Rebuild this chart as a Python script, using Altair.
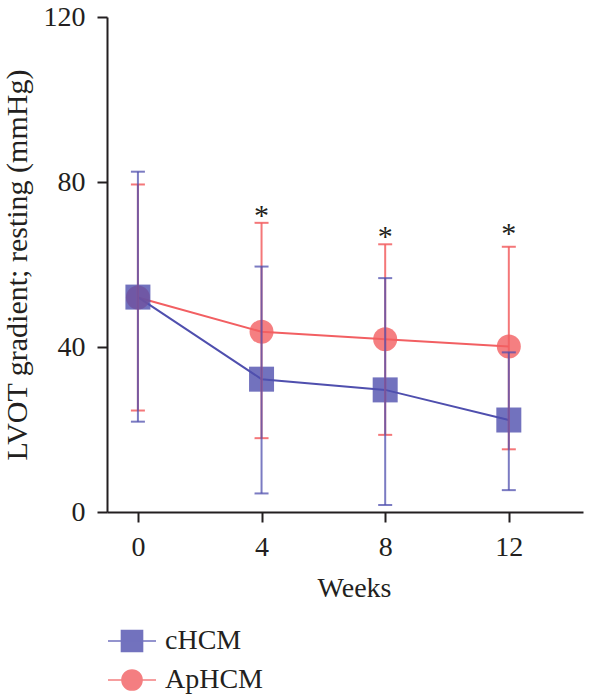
import altair as alt
import pandas as pd

# ---- data ----
weeks = [0, 4, 8, 12]
groups = ["cHCM", "ApHCM"]

chcm_mean = [52.1, 32.2, 29.6, 22.3]
chcm_hi = [82.5, 59.5, 56.7, 38.7]
chcm_lo = [21.9, 4.5, 1.7, 5.3]

aphcm_mean = [52.0, 43.7, 41.9, 40.1]
aphcm_hi = [79.4, 70.1, 64.9, 64.3]
aphcm_lo = [24.6, 17.9, 18.7, 15.2]

star_weeks = [4, 8, 12]
star_y = [72.7, 67.7, 68.4]
star_text = ["*", "*", "*"]

y_ticks = [0, 40, 80, 120]

BLUE = "#4F4FAE"
RED = "#F25F62"
INK = "#231F20"
FONT = "Liberation Serif"

df_c = pd.DataFrame({"week": weeks, "mean": chcm_mean, "lo": chcm_lo, "hi": chcm_hi, "group": "cHCM"})
df_a = pd.DataFrame({"week": weeks, "mean": aphcm_mean, "lo": aphcm_lo, "hi": aphcm_hi, "group": "ApHCM"})
df_s = pd.DataFrame({"week": star_weeks, "mean": star_y, "label": star_text})
df_leg = pd.DataFrame({"group": groups, "week": [0, 0], "mean": [0, 0]})

xs = alt.Scale(domain=[-1, 14.4], nice=False, zero=False)
ys = alt.Scale(domain=[0, 120], nice=False, zero=True)
x_axis = alt.Axis(values=weeks, title="Weeks", titleX=247, labelPadding=11, titlePadding=13)
y_axis = alt.Axis(values=y_ticks, title="LVOT gradient; resting (mmHg)", labelPadding=12, titlePadding=11,
                  titleFontSize=30)


def X():
    return alt.X("week:Q", scale=xs, axis=x_axis)


def Y(field):
    return alt.Y(f"{field}:Q", scale=ys, axis=y_axis)


def group_layers(df, color, shape, size, op_bar):
    base = alt.Chart(df)
    line = base.mark_line(color=color, strokeWidth=2).encode(x=X(), y=Y("mean"))
    pts = base.mark_point(shape=shape, filled=True, size=size, color=color, opacity=0.8).encode(x=X(), y=Y("mean"))
    rule = base.mark_rule(color=color, strokeWidth=2, opacity=op_bar).encode(x=X(), y=Y("lo"), y2="hi:Q")
    cap_hi = base.mark_tick(orient="horizontal", size=14, thickness=2, color=color, opacity=op_bar).encode(x=X(), y=Y("hi"))
    cap_lo = base.mark_tick(orient="horizontal", size=14, thickness=2, color=color, opacity=op_bar).encode(x=X(), y=Y("lo"))
    return line, pts, rule, cap_hi, cap_lo


a_line, a_pts, a_rule, a_hi, a_lo = group_layers(df_a, RED, "circle", 576, 0.85)
c_line, c_pts, c_rule, c_hi, c_lo = group_layers(df_c, BLUE, "square", 625, 0.75)

stars = alt.Chart(df_s).mark_text(font=FONT, fontSize=30, baseline="alphabetic", dy=13, color=INK).encode(
    x=X(), y=Y("mean"), text="label:N"
)

sq_path = "M-1,0H1M-0.44,-0.44H0.44V0.44H-0.44Z"
ci_path = "M-1,0H1M0.42,0A0.42,0.42,0,1,1,-0.42,0A0.42,0.42,0,1,1,0.42,0Z"

leg = alt.Legend(
    title=None,
    orient="none",
    legendX=0,
    legendY=599,
    direction="vertical",
    padding=0,
    rowPadding=-10,
    labelOffset=8,
    labelFont=FONT,
    labelFontSize=28,
    labelColor=INK,
    symbolSize=2304,
    symbolStrokeWidth=1.5,
    symbolOpacity=0.8,
)

legend_layer = alt.Chart(df_leg).transform_filter("false").mark_point(filled=True, size=2304, opacity=0.8, strokeWidth=1.5).encode(
    x=X(),
    y=Y("mean"),
    color=alt.Color("group:N", scale=alt.Scale(domain=groups, range=[BLUE, RED]), legend=leg),
    stroke=alt.Stroke("group:N", scale=alt.Scale(domain=groups, range=[BLUE, RED]), legend=leg),
    shape=alt.Shape("group:N", scale=alt.Scale(domain=groups, range=[sq_path, ci_path]), legend=leg),
)

chart = alt.layer(
    a_line, c_line, a_pts, c_pts, a_rule, a_hi, a_lo, c_rule, c_hi, c_lo, stars, legend_layer
).properties(
    width=476,
    height=495,
    autosize=alt.AutoSizeParams(type="none"),
    padding={"left": 107, "top": 17, "right": 17, "bottom": 182},
).configure_view(
    stroke=None
).configure_axis(
    grid=False,
    labelFont=FONT,
    labelFontSize=28,
    labelColor=INK,
    titleFont=FONT,
    titleFontSize=28,
    titleFontWeight="normal",
    titleColor=INK,
    domainColor=INK,
    domainWidth=2,
    tickColor=INK,
    tickWidth=2,
    tickSize=10,
)

chart.save("out.html", embed_options={"renderer": "svg", "actions": False})
